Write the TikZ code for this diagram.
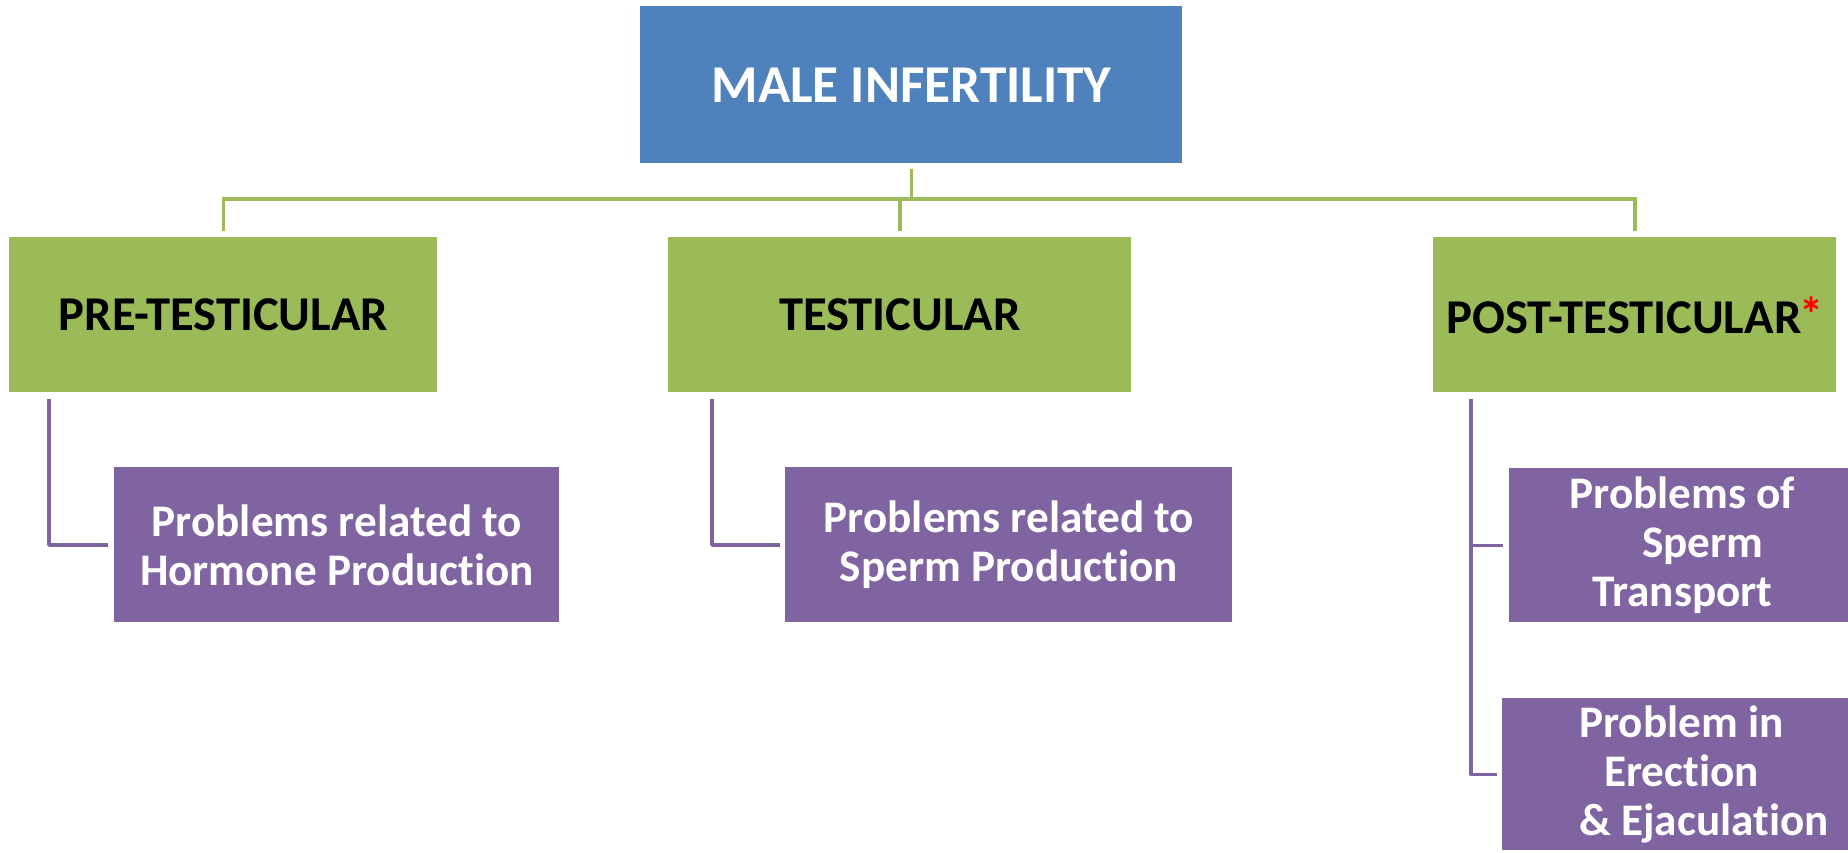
\documentclass[tikz,border=0pt]{standalone}
\usepackage{fontspec}
\setmainfont{Carlito}[Ligatures=NoCommon]
\usepackage{tikz}

\definecolor{blueF}{HTML}{4F81BD}
\definecolor{greenF}{HTML}{9BBB59}
\definecolor{purpleF}{HTML}{8064A2}

\tikzset{
  box/.style={anchor=north west, inner sep=0pt, align=center, font=\bfseries},
  topbox/.style={box, fill=blueF, text=white, font=\fontsize{26.6}{32}\selectfont\bfseries},
  catbox/.style={box, fill=greenF, text=black, font=\fontsize{24.3}{30}\selectfont\bfseries},
  subbox/.style={box, fill=purpleF, text=white, font=\fontsize{22.6}{24.5}\selectfont\bfseries},
  trunk/.style={draw=greenF, line width=1.9pt},
  twig/.style={draw=purpleF, line width=1.9pt, line join=round}
}

\begin{document}
\begin{tikzpicture}[x=0.5pt, y=-0.5pt]

% --- page, in px of the reference ---
\useasboundingbox (0,0) rectangle (1848,852);
\clip (0,0) rectangle (1848,852);

% --- root ---
\node[topbox, minimum width=271pt, minimum height=78.5pt] (male) at (640,6) {MALE INFERTILITY};

% --- categories ---
\node[catbox, minimum width=214pt,   minimum height=77.5pt] (pre)  at (9,237)    {PRE-TESTICULAR};
\node[catbox, minimum width=231.5pt, minimum height=77.5pt] (tes)  at (668,237)  {TESTICULAR};
\node[catbox, minimum width=201.5pt, minimum height=77.5pt] (post) at (1433,237)
  {POST-TESTICULAR\kern-1pt{\color{red}\raisebox{1pt}{*}}};

% --- problems ---
\node[subbox, minimum width=222.5pt, minimum height=77.5pt] (hormone) at (114,467)
  {Problems related to\\Hormone Production};
\node[subbox, minimum width=223.5pt, minimum height=77.5pt] (sperm) at (785,467)
  {Problems related to\\Sperm Production};
\node[subbox, minimum width=173pt, minimum height=77pt] (transport) at (1509,468)
  {Problems of\\\hspace*{0.9em}Sperm\\Transport};
\node[subbox, minimum width=179pt, minimum height=76pt] (erection) at (1502,698)
  {Problem in\\Erection\\\hspace*{1em}\& Ejaculation};

% --- green tree ---
\draw[trunk] ([yshift=-2.5pt]male.south) |- ([yshift=19pt]pre.north) -- ([yshift=3pt]pre.north);
\draw[trunk] ([yshift=19pt]tes.north) -- ([yshift=3pt]tes.north);
\draw[trunk] ([yshift=-2.5pt]male.south) |- ([yshift=19pt]post.north) -- ([yshift=3pt]post.north);

% --- purple links ---
\draw[twig] ([xshift=20pt,yshift=-3pt]pre.south west) |- ([xshift=-3pt]hormone.west);
\draw[twig] ([xshift=22pt,yshift=-3pt]tes.south west) |- ([xshift=-2.5pt]sperm.west);
\draw[twig] ([xshift=19pt,yshift=-3pt]post.south west) |- ([xshift=-2.5pt]erection.west);
\draw[twig] ([xshift=19pt]post.south west |- transport.west) -- ([xshift=-3pt]transport.west);

\end{tikzpicture}
\end{document}
